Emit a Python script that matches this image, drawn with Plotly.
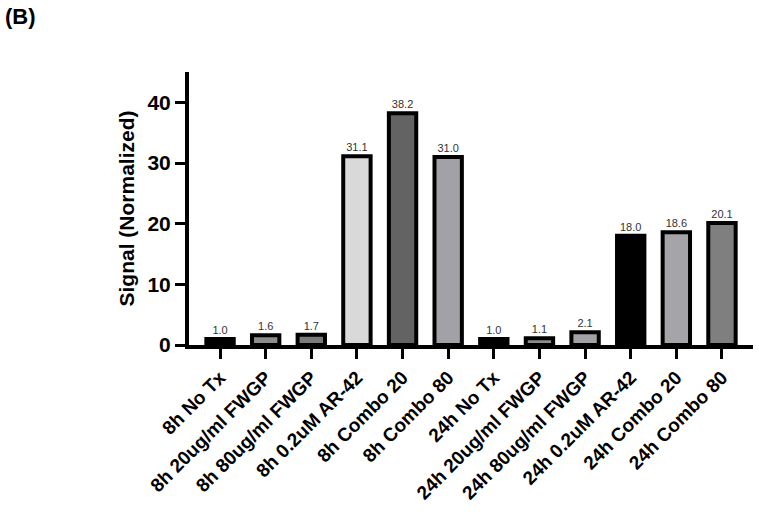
import plotly.graph_objects as go

categories = ["8h No Tx", "8h 20ug/ml FWGP", "8h 80ug/ml FWGP", "8h 0.2uM AR-42",
              "8h Combo 20", "8h Combo 80", "24h No Tx", "24h 20ug/ml FWGP",
              "24h 80ug/ml FWGP", "24h 0.2uM AR-42", "24h Combo 20", "24h Combo 80"]
values = [1.0, 1.6, 1.7, 31.1, 38.2, 31.0, 1.0, 1.1, 2.1, 18.0, 18.6, 20.1]
colors = ["#000000", "#8c8c8c", "#7a7a7a", "#d9d9d9", "#636363", "#a2a2a6",
          "#000000", "#8c8c8c", "#a2a2a6", "#000000", "#a5a5a9", "#7f7f7f"]

FONT = "Arial, Liberation Sans, Helvetica, sans-serif"

fig = go.Figure(go.Bar(
    x=categories, y=values,
    marker=dict(color=colors, line=dict(color="#000000", width=4)),
    width=0.6,
    text=[f"{v:.1f}" for v in values],
    textposition="outside",
    textfont=dict(family=FONT, size=11, color="#333333"),
    cliponaxis=False,
))

fig.update_layout(
    width=759, height=512,
    margin=dict(l=189, r=6, t=72, b=167),
    plot_bgcolor="white", paper_bgcolor="white",
    showlegend=False,
    font=dict(family=FONT, color="#000000"),
    xaxis=dict(
        range=[-0.68, 11.68],
        showline=True, linecolor="#000000", linewidth=4,
        ticks="outside", ticklen=10, tickwidth=3, tickcolor="#000000",
        tickangle=-45,
        tickfont=dict(family=FONT, size=19, color="#000000", weight="bold"),
        showgrid=False, zeroline=False,
    ),
    yaxis=dict(
        range=[0, 45],
        tickvals=[0, 10, 20, 30, 40],
        showline=True, linecolor="#000000", linewidth=4,
        ticks="outside", ticklen=10, tickwidth=3, tickcolor="#000000",
        tickfont=dict(family=FONT, size=21, color="#000000", weight="bold"),
        title=dict(text="Signal (Normalized)", standoff=8,
                   font=dict(family=FONT, size=21, color="#000000", weight="bold")),
        showgrid=False, zeroline=False,
    ),
    annotations=[dict(
        text="(B)", xref="paper", yref="paper", x=-186/564, y=1 + 70/273,
        xanchor="left", yanchor="top", showarrow=False,
        font=dict(family=FONT, size=22, color="#000000", weight="bold"),
    )],
)

fig.write_html("out.html")
